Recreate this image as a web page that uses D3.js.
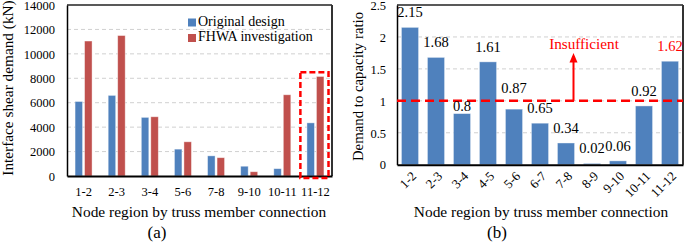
<!DOCTYPE html>
<html><head><meta charset="utf-8">
<script src="https://cdn.jsdelivr.net/npm/d3@7"></script>
<style>
html,body{margin:0;padding:0;background:#fff;}
</style></head>
<body><svg id="c" width="685" height="245"></svg>
<script>
// ---- Data ----
const catsA = ["1-2","2-3","3-4","5-6","7-8","9-10","10-11","11-12"];
const originalDesign = [6100,6600,4800,2200,1650,800,600,4350];
const fhwaInvestigation = [11050,11500,4850,2800,1500,350,6650,8150];
const seriesNamesA = ["Original design","FHWA investigation"];
const yTicksA = [0,2000,4000,6000,8000,10000,12000,14000];

const catsB = ["1-2","2-3","3-4","4-5","5-6","6-7","7-8","8-9","9-10","10-11","11-12"];
const ratioB = [2.15,1.68,0.8,1.61,0.87,0.65,0.34,0.02,0.06,0.92,1.62];
const yTicksB = [0,0.5,1,1.5,2,2.5];
const thresholdB = 1;
const highlightCatA = "11-12";
const highlightCatB = "11-12";

const BLUE="#4F81BD", RED="#C0504D", ALERT="#FF0000";
const FONT = '"Liberation Serif","Times New Roman","DejaVu Serif",serif';
const svg = d3.select("#c");

// ---- Panel (a) ----
(function(){
  const L=67,R=332,T=5,B=176;
  const x = d3.scaleBand().domain(catsA).range([L,R]).paddingInner(0).paddingOuter(0);
  const y = d3.scaleLinear().domain([0,14000]).range([B,T]);
  const g = svg.append("g");
  g.selectAll(".gl").data(yTicksA.filter(t=>t>0 && t<14000)).join("line")
    .attr("x1",L).attr("x2",R).attr("y1",d=>y(d)).attr("y2",d=>y(d))
    .attr("stroke","#D0D0D0").attr("stroke-width",1).attr("stroke-dasharray","4,3");
  const bw = 7.5, gap = 2;
  const data = catsA.map((c,i)=>({c,vals:[originalDesign[i],fhwaInvestigation[i]]}));
  const grp = g.selectAll(".grp").data(data).join("g");
  grp.selectAll("rect").data(d=>d.vals.map((v,k)=>({c:d.c,v,k}))).join("rect")
    .attr("x",d=>x(d.c)+x.bandwidth()/2 - bw - gap/2 + d.k*(bw+gap))
    .attr("width",bw)
    .attr("y",d=>y(d.v)).attr("height",d=>B-y(d.v))
    .attr("fill",d=>d.k===0?BLUE:RED)
    .attr("stroke","#fff").attr("stroke-opacity",0.5).attr("stroke-width",0.8);
  g.append("line").attr("x1",L).attr("x2",R).attr("y1",T).attr("y2",T).attr("stroke","#222").attr("stroke-width",1.3);
  g.append("line").attr("x1",R).attr("x2",R).attr("y1",T).attr("y2",B).attr("stroke","#333").attr("stroke-width",2);
  const ya = g.append("g").attr("transform",`translate(${L},0)`)
    .call(d3.axisLeft(y).tickValues(yTicksA).tickSize(0).tickPadding(12).tickFormat(d3.format("d")));
  ya.select(".domain").attr("stroke","#000").attr("stroke-width",1.5);
  ya.selectAll("text").style("font-size","12.5px").attr("dy","0.34em");
  const xa = g.append("g").attr("transform",`translate(0,${B})`)
    .call(d3.axisBottom(x).tickSize(0).tickPadding(11));
  xa.select(".domain").attr("stroke","#000").attr("stroke-width",2);
  xa.selectAll("text").style("font-size","12.5px");
  const hx = x(highlightCatA);
  g.append("rect").attr("x",hx+1.5).attr("y",y(8500)).attr("width",x.bandwidth()-5).attr("height",B+2-y(8500))
    .attr("fill","none").attr("stroke",ALERT).attr("stroke-width",2.5).attr("stroke-dasharray","6,3");
  const lg = g.append("g");
  seriesNamesA.forEach((n,i)=>{
    lg.append("rect").attr("x",188).attr("y",18.5+i*15.5).attr("width",8).attr("height",8).attr("fill",i?RED:BLUE);
    lg.append("text").attr("x",198).attr("y",25.5+i*15.5).style("font-size","14px").text(n);
  });
  g.append("text").attr("transform","translate(13,88) rotate(-90)").attr("text-anchor","middle")
    .style("font-size","15.3px").text("Interface shear demand (kN)");
  g.append("text").attr("x",199).attr("y",217).attr("text-anchor","middle").style("font-size","15.4px")
    .text("Node region by truss member connection");
  g.append("text").attr("x",157).attr("y",238).attr("text-anchor","middle").style("font-size","17px").text("(a)");
})();

// ---- Panel (b) ----
(function(){
  const L=397,R=683,T=5,B=164.7;
  const x = d3.scaleBand().domain(catsB).range([L,R]).paddingInner(0.34).paddingOuter(0.17);
  const y = d3.scaleLinear().domain([0,2.5]).range([B,T]);
  const g = svg.append("g");
  g.selectAll(".gl").data(yTicksB.filter(t=>t>0 && t<2.5)).join("line")
    .attr("x1",L).attr("x2",R).attr("y1",d=>y(d)).attr("y2",d=>y(d))
    .attr("stroke","#D0D0D0").attr("stroke-width",1).attr("stroke-dasharray","4,3");
  g.selectAll(".bar").data(catsB.map((c,i)=>({c,v:ratioB[i]}))).join("rect")
    .attr("x",d=>x(d.c)).attr("width",x.bandwidth())
    .attr("y",d=>y(d.v)).attr("height",d=>B-y(d.v))
    .attr("fill",BLUE).attr("stroke","#fff").attr("stroke-opacity",0.5).attr("stroke-width",0.8);
  g.append("line").attr("x1",L).attr("x2",R).attr("y1",T).attr("y2",T).attr("stroke","#222").attr("stroke-width",1.3);
  g.append("line").attr("x1",R).attr("x2",R).attr("y1",T).attr("y2",B).attr("stroke","#333").attr("stroke-width",2);
  const ya = g.append("g").attr("transform",`translate(${L},0)`)
    .call(d3.axisLeft(y).tickValues(yTicksB).tickSize(0).tickPadding(11).tickFormat(d=>String(d)));
  ya.select(".domain").attr("stroke","#000").attr("stroke-width",1.5);
  ya.selectAll("text").style("font-size","12.5px").attr("dy","0.34em");
  const xa = g.append("g").attr("transform",`translate(0,${B})`)
    .call(d3.axisBottom(x).tickSize(0).tickPadding(0));
  xa.select(".domain").attr("stroke","#000").attr("stroke-width",2);
  xa.selectAll("text").style("font-size","13px").attr("text-anchor","end")
    .attr("dy","0.35em").attr("transform","translate(4,9) rotate(-45)").attr("y",0).attr("x",0);
  const yLine = y(thresholdB);
  g.append("line").attr("x1",L).attr("x2",R).attr("y1",yLine).attr("y2",yLine)
    .attr("stroke",ALERT).attr("stroke-width",2.5).attr("stroke-dasharray","9,5");
  function labelY(v){
    const top = y(v); let base = top - 10;
    if (base - 10 < yLine + 2 && base + 2 > yLine - 2) {
      base = (top - yLine >= 12) ? yLine + 10.5 : yLine - 7.7;
    }
    return base;
  }
  g.selectAll(".lbl").data(catsB.map((c,i)=>({c,v:ratioB[i]}))).join("text")
    .attr("x",d=>x(d.c)+x.bandwidth()/2).attr("y",d=>labelY(d.v))
    .attr("text-anchor","middle").style("font-size","14.5px")
    .style("fill",d=>d.c===highlightCatB?ALERT:"#000")
    .text(d=>String(d.v));
  const ax = 573.5;
  g.append("line").attr("x1",ax).attr("x2",ax).attr("y1",yLine).attr("y2",y(1.7))
    .attr("stroke",ALERT).attr("stroke-width",2);
  g.append("path").attr("d",`M${ax},${y(1.75)} L${ax-4},${y(1.6)} L${ax+4},${y(1.6)} Z`).attr("fill",ALERT);
  g.append("text").attr("x",584).attr("y",49).attr("text-anchor","middle").style("font-size","15.2px")
    .style("fill",ALERT).text("Insufficient");
  g.append("text").attr("transform","translate(363,86.5) rotate(-90)").attr("text-anchor","middle")
    .style("font-size","14.8px").text("Demand to capacity ratio");
  g.append("text").attr("x",541).attr("y",217).attr("text-anchor","middle").style("font-size","15.4px")
    .text("Node region by truss member connection");
  g.append("text").attr("x",497).attr("y",238).attr("text-anchor","middle").style("font-size","17px").text("(b)");
})();

svg.selectAll("g").attr("font-family",null);
svg.selectAll("text").style("font-family",FONT).each(function(){
  if(!this.style.fill) d3.select(this).style("fill","#000");
});
</script></body></html>
